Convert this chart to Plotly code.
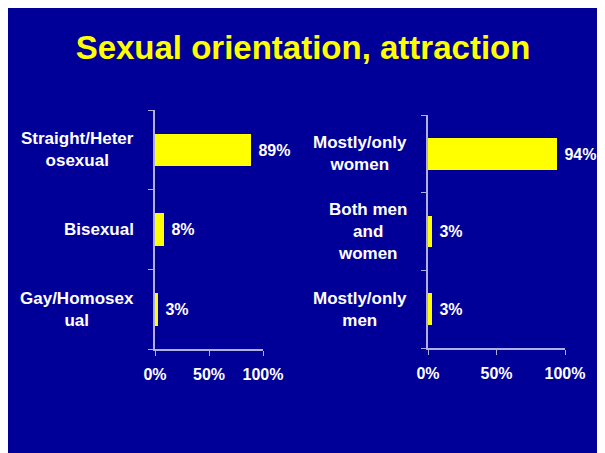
"""Slide-style bar charts: sexual orientation and attraction."""

import plotly.graph_objects as go

# data
orientation_labels = ["Straight/Heter<br>osexual", "Bisexual", "Gay/Homosex<br>ual"]
orientation_share = [0.89, 0.08, 0.03]

attraction_labels = ["Mostly/only<br>women", "Both men<br>and<br>women", "Mostly/only<br>men"]
attraction_share = [0.94, 0.03, 0.03]

tick_values = [0, 0.5, 1]
tick_labels = ["0%", "50%", "100%"]

W, H = 613, 453
OFFSET = 8  # page margin around the figure in the screenshot
BLUE = "#000099"
AXIS = "#b0b0e0"
FONT = "Liberation Sans, Arial, sans-serif"


def px_x(p):
    return (p - OFFSET) / W


def px_y(p):
    return 1 - (p - OFFSET) / H


def bar_trace(labels, values, xaxis, yaxis):
    return go.Bar(
        x=values,
        y=list(range(len(labels))),
        orientation="h",
        width=0.41,
        marker={"color": "#ffff00", "line": {"width": 0}},
        text=[f" {v:.0%}" for v in values],
        textposition="outside",
        textfont={"family": FONT, "size": 16, "color": "white", "weight": "bold"},
        cliponaxis=False,
        xaxis=xaxis,
        yaxis=yaxis,
        hoverinfo="skip",
        showlegend=False,
    )


fig = go.Figure()
fig.add_trace(bar_trace(orientation_labels, orientation_share, "x", "y"))
fig.add_trace(bar_trace(attraction_labels, attraction_share, "x2", "y2"))

x_common = dict(
    range=[0, 1],
    tickvals=tick_values,
    ticktext=tick_labels,
    showgrid=False,
    zeroline=False,
    showline=True,
    linecolor=AXIS,
    linewidth=1.5,
    ticks="outside",
    ticklen=5,
    tickcolor=AXIS,
    ticklabelstandoff=5,
    tickfont={"family": FONT, "size": 16, "color": "white", "weight": "bold"},
    automargin=False,
    fixedrange=True,
)
y_common = dict(
    range=[2.5, -0.5],
    tickvals=[-0.5, 0.5, 1.5, 2.5],
    ticktext=["", "", "", ""],
    showgrid=False,
    zeroline=False,
    showline=True,
    linecolor=AXIS,
    linewidth=1.5,
    ticks="outside",
    ticklen=5,
    tickcolor=AXIS,
    automargin=False,
    fixedrange=True,
)

fig.update_layout(
    width=W,
    height=H,
    margin={"l": 0, "r": 0, "t": 0, "b": 0, "autoexpand": False},
    paper_bgcolor=BLUE,
    plot_bgcolor=BLUE,
    bargap=0,
    xaxis=dict(x_common, domain=[px_x(155), px_x(263)], anchor="y"),
    yaxis=dict(y_common, domain=[px_y(349), px_y(110)], anchor="x"),
    xaxis2=dict(x_common, domain=[px_x(428), px_x(565)], anchor="y2"),
    yaxis2=dict(y_common, domain=[px_y(348), px_y(115)], anchor="x2"),
    title={
        "text": "Sexual orientation, attraction",
        "x": px_x(303),
        "xanchor": "center",
        "y": px_y(47),
        "yanchor": "middle",
        "font": {"family": FONT, "size": 33, "color": "#ffff00", "weight": "bold"},
    },
)

# category labels: block right-aligned near the axis, lines centred within it
label_font = {"family": FONT, "size": 17, "color": "white", "weight": "bold"}
for i, label in enumerate(orientation_labels):
    fig.add_annotation(text=label, xref="paper", x=px_x(136), xanchor="right",
                       yref="y", y=i, showarrow=False, align="center", font=label_font)
for i, label in enumerate(attraction_labels):
    fig.add_annotation(text=label, xref="paper", x=px_x(409), xanchor="right",
                       yref="y2", y=i, showarrow=False, align="center", font=label_font)

fig.write_html("out.html")
